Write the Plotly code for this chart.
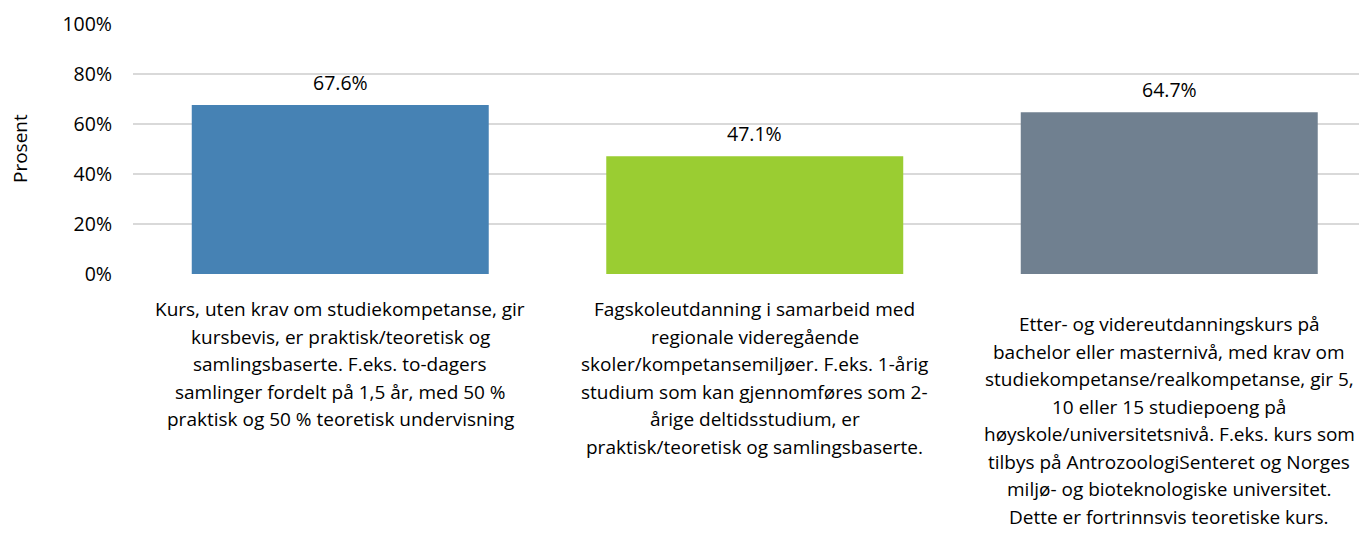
import plotly.graph_objects as go

# ---- data ----
category_lines = [
    ["Kurs, uten krav om studiekompetanse, gir",
     "kursbevis, er praktisk/teoretisk og",
     "samlingsbaserte. F.eks. to-dagers",
     "samlinger fordelt på 1,5 år, med 50 %",
     "praktisk og 50 % teoretisk undervisning"],
    ["Fagskoleutdanning i samarbeid med",
     "regionale videregående",
     "skoler/kompetansemiljøer. F.eks. 1-årig",
     "studium som kan gjennomføres som 2-",
     "årige deltidsstudium, er",
     "praktisk/teoretisk og samlingsbaserte."],
    ["Etter- og videreutdanningskurs på",
     "bachelor eller masternivå, med krav om",
     "studiekompetanse/realkompetanse, gir 5,",
     "10 eller 15 studiepoeng på",
     "høyskole/universitetsnivå. F.eks. kurs som",
     "tilbys på AntrozoologiSenteret og Norges",
     "miljø- og bioteknologiske universitet.",
     "Dette er fortrinnsvis teoretiske kurs."],
]
values = [67.6, 47.1, 64.7]
bar_colors = ["#4682B4", "#9ACD32", "#708090"]
y_title = "Prosent"

FONT = "Open Sans, sans-serif"
TXT = "#000000"

# page has an 8px body margin; figure coordinates are compensated
ML, MT = 125, 16
PLOT_W = 1367 - ML

x_pos = list(range(len(values)))

fig = go.Figure()
fig.add_trace(go.Bar(
    x=x_pos, y=values, width=0.7165,
    marker=dict(color=bar_colors, line=dict(width=0)),
    hoverinfo="skip",
))

annotations = []
# value labels
for i, v in enumerate(values):
    annotations.append(dict(
        x=i, y=v, xref="x", yref="y", text=f"{v:.1f}%",
        showarrow=False, yanchor="bottom", yshift=7,
        font=dict(family=FONT, size=19.5, color=TXT),
    ))

# category labels, line by line
line_h = 27.5
first_off = [35, 35, 50]
for i, lines in enumerate(category_lines):
    for k, ln in enumerate(lines):
        annotations.append(dict(
            x=i, y=0, xref="x", yref="y", text=ln,
            showarrow=False, yanchor="middle", xanchor="center",
            yshift=-(first_off[i] + k * line_h),
            font=dict(family=FONT, size=19, color=TXT),
        ))

# y-axis title
annotations.append(dict(
    x=(12 - ML) / PLOT_W, y=0.5, xref="paper", yref="paper",
    text=y_title, textangle=-90, showarrow=False,
    xanchor="center", yanchor="middle",
    font=dict(family=FONT, size=19, color=TXT),
))

fig.update_layout(
    width=1367, height=533,
    margin=dict(l=ML, r=0, t=MT, b=533 - MT - 250),
    plot_bgcolor="white", paper_bgcolor="white",
    showlegend=False,
    annotations=annotations,
    font=dict(family=FONT, size=19, color=TXT),
)
fig.update_xaxes(
    range=[-0.5, -0.5 + PLOT_W / 414.5], showticklabels=False, showgrid=False,
    zeroline=False, showline=False, ticks="",
)
fig.update_yaxes(
    range=[0, 100], dtick=20, ticksuffix="%",
    showgrid=True, gridcolor="#d9d9d9", gridwidth=1.5,
    zeroline=False, showline=False, ticks="",
    ticklabelstandoff=20,
    tickfont=dict(family=FONT, size=19.5, color=TXT),
)

fig.write_html("out.html")
